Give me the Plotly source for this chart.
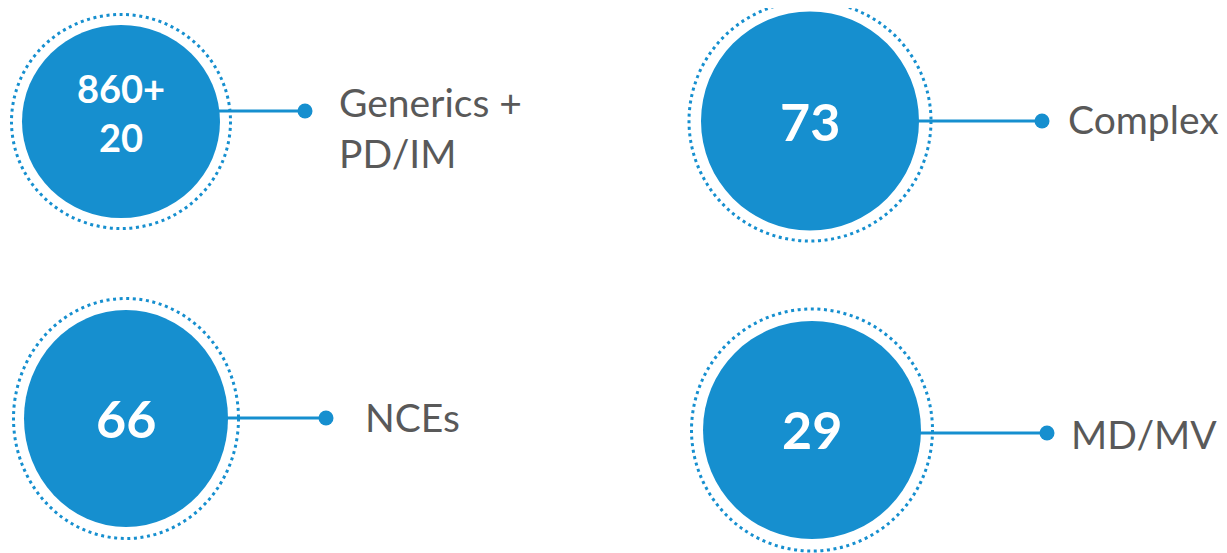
import plotly.graph_objects as go

# ---- data ----
values = ["860+<br>20", "73", "66", "29"]
labels = ["Generics +<br>PD/IM", "Complex", "NCEs", "MD/MV"]

# ---- layout (positions / sizes, in page-pixel axis units) ----
cx = [121, 810, 126, 812]
cy = [121.5, 121, 418.5, 430]
rx = [99, 109, 102, 109]
ry = [96.5, 109.5, 108.5, 109]
ring_rx = [109.5, 121, 112.5, 120.5]
ring_ry = [107, 120, 120, 121]
line_y = [111, 121, 418, 433]
dot_x = [305, 1042, 326, 1047]
label_x = [337, 1066, 363, 1069]
label_y = [127, 118.5, 416.5, 434]
value_y = [112, 120.5, 418, 429]
value_size = [38, 52, 52, 52]

BLUE = "#168FCF"
GREY = "#595959"
W, H = 1227, 553
OFF = 8  # default body margin of the page

fig = go.Figure()
shapes = []
annotations = []
for i in range(len(values)):
    # dotted outer ring
    shapes.append(dict(type="circle", xref="x", yref="y",
                       x0=cx[i] - ring_rx[i], x1=cx[i] + ring_rx[i],
                       y0=cy[i] - ring_ry[i], y1=cy[i] + ring_ry[i],
                       line=dict(color=BLUE, width=3, dash="3px,3.6px"),
                       fillcolor="rgba(0,0,0,0)", layer="above"))
    # filled circle
    shapes.append(dict(type="circle", xref="x", yref="y",
                       x0=cx[i] - rx[i], x1=cx[i] + rx[i],
                       y0=cy[i] - ry[i], y1=cy[i] + ry[i],
                       line=dict(width=0), fillcolor=BLUE, layer="below"))
    # connector
    shapes.append(dict(type="line", xref="x", yref="y",
                       x0=cx[i] + rx[i] - 4, x1=dot_x[i], y0=line_y[i], y1=line_y[i],
                       line=dict(color=BLUE, width=3), layer="below"))
    annotations.append(dict(x=cx[i], y=value_y[i], xref="x", yref="y",
                            text="<b>%s</b>" % values[i], showarrow=False,
                            xanchor="center", yanchor="middle",
                            font=dict(family="Lato", size=value_size[i], color="white")))
    annotations.append(dict(x=label_x[i], y=label_y[i], xref="x", yref="y",
                            text=labels[i], showarrow=False, align="left",
                            xanchor="left", yanchor="middle",
                            font=dict(family="Lato", size=39, color=GREY)))

fig.add_trace(go.Scatter(x=dot_x, y=line_y, mode="markers",
                         marker=dict(color=BLUE, size=15, line=dict(width=0)),
                         hoverinfo="skip", showlegend=False))

fig.update_layout(width=W - OFF, height=H - OFF, margin=dict(l=0, r=0, t=0, b=0),
                  paper_bgcolor="white", plot_bgcolor="white",
                  shapes=shapes, annotations=annotations, showlegend=False,
                  xaxis=dict(range=[OFF, W], visible=False, fixedrange=True),
                  yaxis=dict(range=[H, OFF], visible=False, fixedrange=True))

fig.write_html("out.html")
